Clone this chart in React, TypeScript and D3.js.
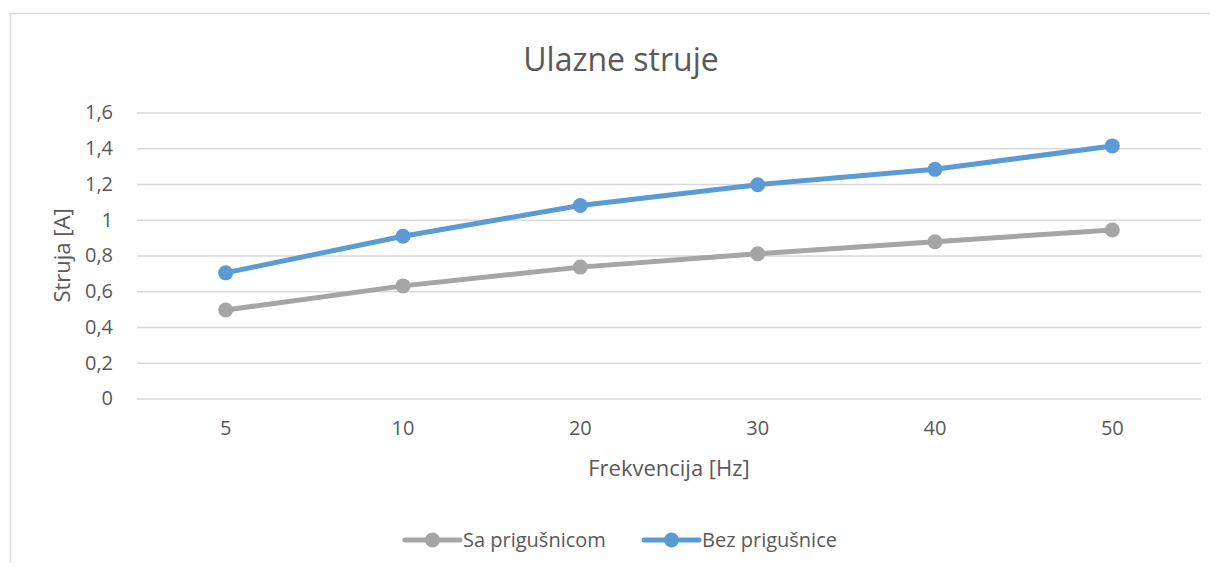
import * as d3 from "d3";
import React, { useEffect, useRef } from "react";

const categories = ["5", "10", "20", "30", "40", "50"];
const saPrigusnicom = [0.495, 0.63, 0.735, 0.81, 0.877, 0.943];
const bezPrigusnice = [0.703, 0.908, 1.08, 1.196, 1.282, 1.413];
const yTicks = [0, 0.2, 0.4, 0.6, 0.8, 1, 1.2, 1.4, 1.6];

const seriesList = [
  { name: "Sa prigušnicom", values: saPrigusnicom, color: "#a5a5a5" },
  { name: "Bez prigušnice", values: bezPrigusnice, color: "#5b9bd5" },
];

const W = 1218;
const H = 571;
const textColor = "#595959";
const font = "'Open Sans', 'Liberation Sans', sans-serif";

const App = () => {
  const ref = useRef(null);

  useEffect(() => {
    const root = d3.select(ref.current);
    root.selectAll("*").remove();

    const svg = root
      .append("svg")
      .attr("width", W)
      .attr("height", H)
      .style("display", "block")
      .style("font-family", font);

    // okvir grafikona
    svg
      .append("rect")
      .attr("x", 10.5)
      .attr("y", 13.5)
      .attr("width", 1205)
      .attr("height", 600)
      .attr("fill", "white")
      .attr("stroke", "#d9d9d9")
      .attr("stroke-width", 1.5);

    const left = 137;
    const right = 1201;
    const top = 112.5;
    const bottom = 398.5;

    const x = d3.scaleBand().domain(categories).range([left, right]);
    const y = d3.scaleLinear().domain([0, 1.6]).range([bottom, top]);
    const fmt = (v) => d3.format(".1f")(v).replace(".", ",").replace(",0", "");

    // mreža i y osa
    svg
      .append("g")
      .attr("transform", `translate(${left},0)`)
      .call(d3.axisLeft(y).tickValues(yTicks).tickSize(-(right - left)).tickFormat(fmt).tickPadding(24))
      .call((g) => g.select(".domain").remove())
      .call((g) => g.selectAll(".tick line").attr("stroke", "#d9d9d9").attr("stroke-width", 1.5))
      .call((g) =>
        g
          .selectAll(".tick text")
          .attr("fill", textColor)
          .attr("font-size", 20)
          .attr("font-family", font)
      );

    // x osa
    svg
      .append("g")
      .attr("transform", `translate(0,${bottom})`)
      .call(d3.axisBottom(x).tickSize(0).tickPadding(22))
      .call((g) => g.select(".domain").remove())
      .call((g) =>
        g
          .selectAll(".tick text")
          .attr("fill", textColor)
          .attr("font-size", 20)
          .attr("font-family", font)
      );

    // naslovi
    svg
      .append("text")
      .attr("x", 621)
      .attr("y", 71)
      .attr("text-anchor", "middle")
      .attr("fill", textColor)
      .attr("font-size", 32)
      .text("Ulazne struje");

    svg
      .append("text")
      .attr("x", 669)
      .attr("y", 476)
      .attr("text-anchor", "middle")
      .attr("fill", textColor)
      .attr("font-size", 22)
      .text("Frekvencija [Hz]");

    svg
      .append("text")
      .attr("transform", `translate(70,${(top + bottom) / 2}) rotate(-90)`)
      .attr("text-anchor", "middle")
      .attr("fill", textColor)
      .attr("font-size", 22)
      .text("Struja [A]");

    const cx = (i) => x(categories[i]) + x.bandwidth() / 2;
    const line = d3
      .line()
      .x((d, i) => cx(i))
      .y((d) => y(d));

    seriesList.forEach((s) => {
      svg
        .append("path")
        .datum(s.values)
        .attr("fill", "none")
        .attr("stroke", s.color)
        .attr("stroke-width", 5)
        .attr("stroke-linejoin", "round")
        .attr("d", line);
      svg
        .append("g")
        .selectAll("circle")
        .data(s.values)
        .enter()
        .append("circle")
        .attr("cx", (d, i) => cx(i))
        .attr("cy", (d) => y(d))
        .attr("r", 7.5)
        .attr("fill", s.color);
    });

    // legenda
    const legendX = [405, 644];
    seriesList.forEach((s, i) => {
      const g = svg.append("g").attr("transform", `translate(${legendX[i]},540)`);
      g.append("line")
        .attr("x1", 0)
        .attr("x2", 55)
        .attr("stroke", s.color)
        .attr("stroke-width", 5)
        .attr("stroke-linecap", "round");
      g.append("circle").attr("cx", 27.5).attr("r", 7.5).attr("fill", s.color);
      g.append("text")
        .attr("x", 58)
        .attr("y", 7)
        .attr("fill", textColor)
        .attr("font-size", 20)
        .text(s.name);
    });
  }, []);

  return <div ref={ref} style={{ margin: -8 }} />;
};

export default App;
